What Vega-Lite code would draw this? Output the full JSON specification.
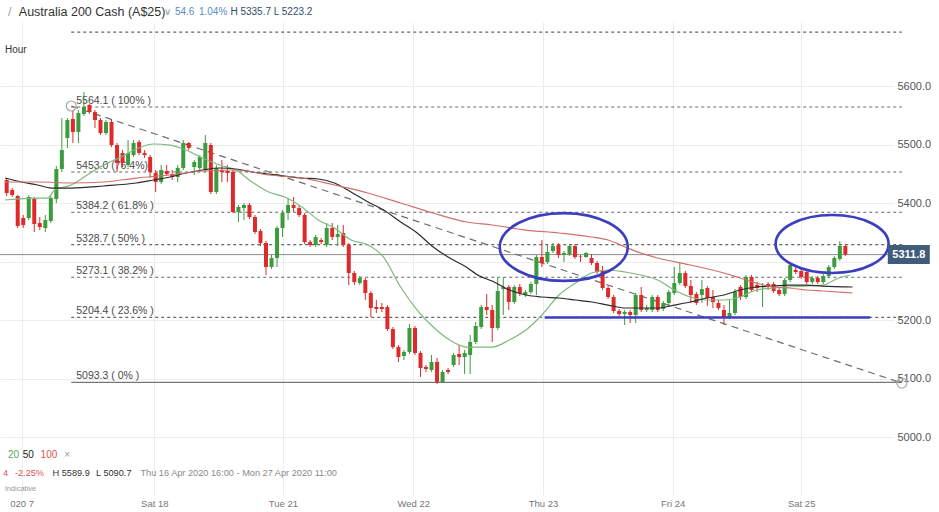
{
  "$schema": "https://vega.github.io/schema/vega-lite/v6.json",
  "autosize": {"type": "none"},
  "padding": {"left": 0, "top": 22, "right": 46, "bottom": 17},
  "width": 893,
  "height": 473,
  "background": "white",
  "config": {"view": {"stroke": null}, "font": "Liberation Sans"},
  "resolve": {"scale": {"color": "independent"}},
  "datasets": {
    "candles": [
      {"i":0,"o":5439.3,"h":5442.7,"l":5412.0,"c":5417.1},
      {"i":1,"o":5422.2,"h":5425.6,"l":5410.3,"c":5413.7},
      {"i":2,"o":5412.0,"h":5413.7,"l":5357.3,"c":5360.7},
      {"i":3,"o":5374.3,"h":5379.5,"l":5357.3,"c":5362.4},
      {"i":4,"o":5374.3,"h":5413.7,"l":5370.9,"c":5410.3},
      {"i":5,"o":5406.8,"h":5410.3,"l":5350.4,"c":5364.1},
      {"i":6,"o":5365.8,"h":5376.1,"l":5353.8,"c":5359.0},
      {"i":7,"o":5357.3,"h":5379.5,"l":5350.4,"c":5370.9},
      {"i":8,"o":5369.2,"h":5412.0,"l":5365.8,"c":5408.5},
      {"i":9,"o":5406.8,"h":5463.2,"l":5400.0,"c":5458.1},
      {"i":10,"o":5458.1,"h":5545.3,"l":5453.0,"c":5490.6},
      {"i":11,"o":5511.1,"h":5545.3,"l":5494.0,"c":5541.9},
      {"i":12,"o":5543.6,"h":5559.0,"l":5502.6,"c":5521.4},
      {"i":13,"o":5521.4,"h":5559.0,"l":5502.6,"c":5553.8},
      {"i":14,"o":5552.1,"h":5589.7,"l":5548.7,"c":5564.1},
      {"i":15,"o":5567.5,"h":5569.2,"l":5552.1,"c":5555.5},
      {"i":16,"o":5555.5,"h":5559.0,"l":5528.2,"c":5541.9},
      {"i":17,"o":5541.9,"h":5545.3,"l":5516.2,"c":5519.6},
      {"i":18,"o":5519.6,"h":5541.9,"l":5516.2,"c":5538.5},
      {"i":19,"o":5538.5,"h":5541.9,"l":5495.7,"c":5499.1},
      {"i":20,"o":5499.1,"h":5502.6,"l":5453.0,"c":5468.4},
      {"i":21,"o":5485.5,"h":5490.6,"l":5461.5,"c":5468.4},
      {"i":22,"o":5464.9,"h":5507.7,"l":5461.5,"c":5485.5},
      {"i":23,"o":5482.0,"h":5507.7,"l":5478.6,"c":5502.6},
      {"i":24,"o":5504.3,"h":5507.7,"l":5482.0,"c":5485.5},
      {"i":25,"o":5485.5,"h":5490.6,"l":5476.9,"c":5482.0},
      {"i":26,"o":5478.6,"h":5482.0,"l":5442.7,"c":5453.0},
      {"i":27,"o":5451.3,"h":5456.4,"l":5418.8,"c":5435.9},
      {"i":28,"o":5435.9,"h":5464.9,"l":5432.5,"c":5456.4},
      {"i":29,"o":5454.7,"h":5464.9,"l":5446.1,"c":5449.6},
      {"i":30,"o":5449.6,"h":5456.4,"l":5439.3,"c":5444.4},
      {"i":31,"o":5444.4,"h":5464.9,"l":5435.9,"c":5459.8},
      {"i":32,"o":5459.8,"h":5507.7,"l":5456.4,"c":5502.6},
      {"i":33,"o":5502.6,"h":5504.3,"l":5490.6,"c":5494.0},
      {"i":34,"o":5461.5,"h":5473.5,"l":5447.9,"c":5470.1},
      {"i":35,"o":5459.8,"h":5482.0,"l":5456.4,"c":5478.6},
      {"i":36,"o":5456.4,"h":5516.2,"l":5453.0,"c":5502.6},
      {"i":37,"o":5499.1,"h":5502.6,"l":5415.4,"c":5418.8},
      {"i":38,"o":5418.8,"h":5464.9,"l":5415.4,"c":5459.8},
      {"i":39,"o":5456.4,"h":5473.5,"l":5435.9,"c":5453.0},
      {"i":40,"o":5454.7,"h":5464.9,"l":5435.9,"c":5451.3},
      {"i":41,"o":5453.0,"h":5456.4,"l":5382.9,"c":5384.6},
      {"i":42,"o":5384.6,"h":5396.6,"l":5367.5,"c":5393.2},
      {"i":43,"o":5391.4,"h":5400.0,"l":5370.9,"c":5396.6},
      {"i":44,"o":5396.6,"h":5400.0,"l":5372.6,"c":5376.1},
      {"i":45,"o":5376.1,"h":5379.5,"l":5347.0,"c":5350.4},
      {"i":46,"o":5352.1,"h":5355.5,"l":5326.5,"c":5331.6},
      {"i":47,"o":5331.6,"h":5335.0,"l":5276.9,"c":5290.6},
      {"i":48,"o":5290.6,"h":5311.1,"l":5287.2,"c":5306.0},
      {"i":49,"o":5306.0,"h":5360.7,"l":5290.6,"c":5357.3},
      {"i":50,"o":5357.3,"h":5388.0,"l":5341.9,"c":5382.9},
      {"i":51,"o":5382.9,"h":5408.5,"l":5370.9,"c":5396.6},
      {"i":52,"o":5396.6,"h":5410.3,"l":5384.6,"c":5391.4},
      {"i":53,"o":5391.4,"h":5396.6,"l":5376.1,"c":5379.5},
      {"i":54,"o":5379.5,"h":5382.9,"l":5329.9,"c":5333.3},
      {"i":55,"o":5333.3,"h":5336.7,"l":5324.8,"c":5328.2},
      {"i":56,"o":5328.2,"h":5345.3,"l":5324.8,"c":5341.9},
      {"i":57,"o":5336.7,"h":5340.1,"l":5329.9,"c":5333.3},
      {"i":58,"o":5328.2,"h":5365.8,"l":5324.8,"c":5357.3},
      {"i":59,"o":5357.3,"h":5365.8,"l":5336.7,"c":5341.9},
      {"i":60,"o":5341.9,"h":5362.4,"l":5326.5,"c":5347.0},
      {"i":61,"o":5348.7,"h":5362.4,"l":5324.8,"c":5328.2},
      {"i":62,"o":5328.2,"h":5331.6,"l":5259.8,"c":5280.3},
      {"i":63,"o":5280.3,"h":5283.8,"l":5259.8,"c":5264.9},
      {"i":64,"o":5263.2,"h":5275.2,"l":5259.8,"c":5271.8},
      {"i":65,"o":5268.4,"h":5271.8,"l":5234.2,"c":5246.2},
      {"i":66,"o":5246.2,"h":5249.6,"l":5205.1,"c":5220.5},
      {"i":67,"o":5222.2,"h":5234.2,"l":5212.0,"c":5218.8},
      {"i":68,"o":5222.2,"h":5229.1,"l":5213.7,"c":5218.8},
      {"i":69,"o":5222.2,"h":5225.6,"l":5181.2,"c":5184.6},
      {"i":70,"o":5184.6,"h":5188.1,"l":5150.4,"c":5153.8},
      {"i":71,"o":5153.8,"h":5157.3,"l":5128.2,"c":5136.8},
      {"i":72,"o":5138.5,"h":5148.7,"l":5131.6,"c":5145.3},
      {"i":73,"o":5145.3,"h":5193.2,"l":5141.9,"c":5186.3},
      {"i":74,"o":5186.3,"h":5189.8,"l":5140.2,"c":5143.6},
      {"i":75,"o":5143.6,"h":5147.0,"l":5102.6,"c":5118.0},
      {"i":76,"o":5119.7,"h":5123.1,"l":5111.2,"c":5116.3},
      {"i":77,"o":5114.6,"h":5140.2,"l":5111.2,"c":5128.2},
      {"i":78,"o":5128.2,"h":5135.1,"l":5090.7,"c":5094.0},
      {"i":79,"o":5094.0,"h":5114.6,"l":5092.3,"c":5111.2},
      {"i":80,"o":5114.6,"h":5118.0,"l":5107.7,"c":5111.2},
      {"i":81,"o":5123.1,"h":5143.6,"l":5119.7,"c":5140.2},
      {"i":82,"o":5141.9,"h":5157.3,"l":5123.1,"c":5136.8},
      {"i":83,"o":5136.8,"h":5148.7,"l":5107.7,"c":5143.6},
      {"i":84,"o":5140.2,"h":5174.4,"l":5107.7,"c":5162.4},
      {"i":85,"o":5162.4,"h":5196.6,"l":5159.0,"c":5189.8},
      {"i":86,"o":5188.1,"h":5225.6,"l":5184.6,"c":5222.2},
      {"i":87,"o":5222.2,"h":5244.4,"l":5208.6,"c":5217.1},
      {"i":88,"o":5217.1,"h":5225.6,"l":5162.4,"c":5186.3},
      {"i":89,"o":5186.3,"h":5271.8,"l":5182.9,"c":5249.6},
      {"i":90,"o":5252.9,"h":5273.5,"l":5208.6,"c":5256.4},
      {"i":91,"o":5256.4,"h":5259.8,"l":5217.1,"c":5230.8},
      {"i":92,"o":5230.8,"h":5259.8,"l":5227.4,"c":5256.4},
      {"i":93,"o":5256.4,"h":5261.5,"l":5241.0,"c":5246.2},
      {"i":94,"o":5242.7,"h":5251.3,"l":5239.3,"c":5247.9},
      {"i":95,"o":5247.9,"h":5264.9,"l":5244.4,"c":5261.5},
      {"i":96,"o":5261.5,"h":5311.1,"l":5242.7,"c":5307.7},
      {"i":97,"o":5307.7,"h":5336.7,"l":5290.6,"c":5297.4},
      {"i":98,"o":5299.1,"h":5328.2,"l":5295.7,"c":5316.3},
      {"i":99,"o":5318.0,"h":5331.6,"l":5314.5,"c":5326.5},
      {"i":100,"o":5328.2,"h":5331.6,"l":5306.0,"c":5311.1},
      {"i":101,"o":5311.1,"h":5318.0,"l":5299.1,"c":5314.5},
      {"i":102,"o":5312.8,"h":5329.9,"l":5309.4,"c":5326.5},
      {"i":103,"o":5326.5,"h":5329.9,"l":5304.3,"c":5307.7},
      {"i":104,"o":5308.5,"h":5311.1,"l":5299.1,"c":5307.7},
      {"i":105,"o":5307.7,"h":5316.3,"l":5306.0,"c":5314.5},
      {"i":106,"o":5306.0,"h":5312.8,"l":5294.0,"c":5297.4},
      {"i":107,"o":5297.4,"h":5300.9,"l":5278.6,"c":5282.1},
      {"i":108,"o":5285.5,"h":5292.3,"l":5251.3,"c":5254.7},
      {"i":109,"o":5254.7,"h":5258.1,"l":5235.9,"c":5239.3},
      {"i":110,"o":5239.3,"h":5242.7,"l":5212.0,"c":5215.4},
      {"i":111,"o":5215.4,"h":5218.8,"l":5206.8,"c":5210.3},
      {"i":112,"o":5210.3,"h":5217.1,"l":5191.5,"c":5213.7},
      {"i":113,"o":5213.7,"h":5217.1,"l":5194.9,"c":5208.6},
      {"i":114,"o":5208.6,"h":5246.2,"l":5194.9,"c":5242.7},
      {"i":115,"o":5242.7,"h":5256.4,"l":5213.7,"c":5217.1},
      {"i":116,"o":5217.1,"h":5225.6,"l":5213.7,"c":5220.5},
      {"i":117,"o":5217.1,"h":5242.7,"l":5213.7,"c":5239.3},
      {"i":118,"o":5239.3,"h":5242.7,"l":5213.7,"c":5217.1},
      {"i":119,"o":5218.8,"h":5232.5,"l":5215.4,"c":5229.1},
      {"i":120,"o":5229.1,"h":5251.3,"l":5225.6,"c":5247.9},
      {"i":121,"o":5246.2,"h":5290.6,"l":5242.7,"c":5263.2},
      {"i":122,"o":5263.2,"h":5297.4,"l":5259.8,"c":5280.3},
      {"i":123,"o":5280.3,"h":5283.8,"l":5254.7,"c":5258.1},
      {"i":124,"o":5258.1,"h":5268.4,"l":5229.1,"c":5242.7},
      {"i":125,"o":5244.4,"h":5247.9,"l":5225.6,"c":5229.1},
      {"i":126,"o":5242.7,"h":5268.4,"l":5229.1,"c":5252.9},
      {"i":127,"o":5254.7,"h":5258.1,"l":5223.9,"c":5237.6},
      {"i":128,"o":5239.3,"h":5251.3,"l":5220.5,"c":5230.8},
      {"i":129,"o":5229.1,"h":5234.2,"l":5217.1,"c":5220.5},
      {"i":130,"o":5217.1,"h":5225.6,"l":5191.5,"c":5205.1},
      {"i":131,"o":5205.1,"h":5234.2,"l":5201.7,"c":5212.0},
      {"i":132,"o":5212.0,"h":5253.0,"l":5208.6,"c":5247.9},
      {"i":133,"o":5256.4,"h":5259.8,"l":5234.2,"c":5239.3},
      {"i":134,"o":5239.3,"h":5276.9,"l":5235.9,"c":5273.5},
      {"i":135,"o":5273.5,"h":5276.9,"l":5247.9,"c":5251.3},
      {"i":136,"o":5259.8,"h":5264.9,"l":5247.9,"c":5254.7},
      {"i":137,"o":5256.4,"h":5263.2,"l":5222.2,"c":5258.1},
      {"i":138,"o":5261.5,"h":5264.9,"l":5251.3,"c":5256.4},
      {"i":139,"o":5261.5,"h":5264.9,"l":5246.2,"c":5249.6},
      {"i":140,"o":5251.3,"h":5254.7,"l":5241.0,"c":5244.4},
      {"i":141,"o":5244.4,"h":5271.8,"l":5241.0,"c":5268.4},
      {"i":142,"o":5268.4,"h":5297.4,"l":5264.9,"c":5294.0},
      {"i":143,"o":5285.5,"h":5294.0,"l":5278.6,"c":5282.1},
      {"i":144,"o":5283.8,"h":5287.2,"l":5270.1,"c":5273.5},
      {"i":145,"o":5282.1,"h":5285.5,"l":5261.5,"c":5264.9},
      {"i":146,"o":5264.9,"h":5275.2,"l":5261.5,"c":5271.8},
      {"i":147,"o":5271.8,"h":5275.2,"l":5261.5,"c":5264.9},
      {"i":148,"o":5264.9,"h":5278.6,"l":5261.5,"c":5275.2},
      {"i":149,"o":5275.2,"h":5294.0,"l":5271.8,"c":5290.6},
      {"i":150,"o":5290.6,"h":5309.4,"l":5287.2,"c":5306.0},
      {"i":151,"o":5304.3,"h":5335.0,"l":5300.9,"c":5326.5},
      {"i":152,"o":5326.5,"h":5329.9,"l":5309.4,"c":5311.8}
    ],
    "ma": [
      {"ma":"20","i":-0.3,"v":5405.1},{"ma":"20","i":5.6,"v":5408.5},{"ma":"20","i":7.4,"v":5408.5},{"ma":"20","i":8.7,"v":5422.2},
      {"ma":"20","i":11.7,"v":5430.8},{"ma":"20","i":14.6,"v":5447.9},{"ma":"20","i":17.6,"v":5464.9},{"ma":"20","i":20.7,"v":5478.6},
      {"ma":"20","i":23.5,"v":5492.3},{"ma":"20","i":26.6,"v":5500.9},{"ma":"20","i":29.6,"v":5499.1},{"ma":"20","i":32.5,"v":5490.6},
      {"ma":"20","i":35.5,"v":5476.9},{"ma":"20","i":38.6,"v":5464.9},{"ma":"20","i":41.5,"v":5456.4},{"ma":"20","i":44.5,"v":5435.9},
      {"ma":"20","i":47.5,"v":5418.8},{"ma":"20","i":50.4,"v":5410.3},{"ma":"20","i":53.5,"v":5393.2},{"ma":"20","i":56.5,"v":5370.9},
      {"ma":"20","i":59.4,"v":5357.3},{"ma":"20","i":62.4,"v":5336.7},{"ma":"20","i":65.5,"v":5328.2},{"ma":"20","i":68.3,"v":5307.7},
      {"ma":"20","i":71.4,"v":5256.4},{"ma":"20","i":74.4,"v":5217.1},{"ma":"20","i":77.3,"v":5188.1},{"ma":"20","i":80.3,"v":5165.8},
      {"ma":"20","i":83.4,"v":5153.8},{"ma":"20","i":88.0,"v":5153.8},{"ma":"20","i":91.1,"v":5165.8},{"ma":"20","i":94.1,"v":5182.9},
      {"ma":"20","i":97.0,"v":5208.6},{"ma":"20","i":100.1,"v":5242.7},{"ma":"20","i":103.1,"v":5263.2},{"ma":"20","i":106.0,"v":5280.3},
      {"ma":"20","i":109.0,"v":5285.5},{"ma":"20","i":112.1,"v":5282.1},{"ma":"20","i":114.9,"v":5276.9},{"ma":"20","i":118.0,"v":5268.4},
      {"ma":"20","i":121.0,"v":5251.3},{"ma":"20","i":123.9,"v":5239.3},{"ma":"20","i":126.9,"v":5234.2},{"ma":"20","i":130.0,"v":5234.2},
      {"ma":"20","i":132.9,"v":5239.3},{"ma":"20","i":135.9,"v":5251.3},{"ma":"20","i":138.9,"v":5254.7},{"ma":"20","i":141.8,"v":5256.4},
      {"ma":"20","i":144.9,"v":5258.1},{"ma":"20","i":147.9,"v":5259.8},{"ma":"20","i":150.8,"v":5271.8},{"ma":"20","i":152.9,"v":5276.9},
      {"ma":"50","i":-0.3,"v":5442.7},{"ma":"50","i":2.7,"v":5435.9},{"ma":"50","i":5.6,"v":5430.8},{"ma":"50","i":8.1,"v":5425.6},
      {"ma":"50","i":11.7,"v":5425.6},{"ma":"50","i":17.6,"v":5429.1},{"ma":"50","i":23.5,"v":5434.2},{"ma":"50","i":26.6,"v":5439.3},
      {"ma":"50","i":29.6,"v":5444.4},{"ma":"50","i":32.5,"v":5451.3},{"ma":"50","i":35.5,"v":5456.4},{"ma":"50","i":38.6,"v":5459.8},
      {"ma":"50","i":41.5,"v":5458.1},{"ma":"50","i":44.5,"v":5453.0},{"ma":"50","i":47.5,"v":5449.6},{"ma":"50","i":50.4,"v":5446.1},
      {"ma":"50","i":53.5,"v":5442.7},{"ma":"50","i":56.5,"v":5441.0},{"ma":"50","i":59.4,"v":5434.2},{"ma":"50","i":62.4,"v":5418.8},
      {"ma":"50","i":65.5,"v":5401.7},{"ma":"50","i":68.3,"v":5388.0},{"ma":"50","i":71.4,"v":5367.5},{"ma":"50","i":74.4,"v":5348.7},
      {"ma":"50","i":77.3,"v":5324.8},{"ma":"50","i":80.3,"v":5306.0},{"ma":"50","i":83.0,"v":5292.3},{"ma":"50","i":85.7,"v":5275.2},
      {"ma":"50","i":88.0,"v":5266.6},{"ma":"50","i":91.1,"v":5251.3},{"ma":"50","i":94.1,"v":5242.7},{"ma":"50","i":97.0,"v":5239.3},
      {"ma":"50","i":100.1,"v":5237.6},{"ma":"50","i":103.1,"v":5234.2},{"ma":"50","i":106.0,"v":5230.8},{"ma":"50","i":109.0,"v":5225.6},
      {"ma":"50","i":112.1,"v":5220.5},{"ma":"50","i":114.9,"v":5220.5},{"ma":"50","i":118.0,"v":5220.5},{"ma":"50","i":121.0,"v":5225.6},
      {"ma":"50","i":123.9,"v":5230.8},{"ma":"50","i":126.9,"v":5237.6},{"ma":"50","i":130.0,"v":5242.7},{"ma":"50","i":132.9,"v":5251.3},
      {"ma":"50","i":135.9,"v":5256.4},{"ma":"50","i":138.9,"v":5258.1},{"ma":"50","i":141.8,"v":5259.8},{"ma":"50","i":144.9,"v":5259.8},
      {"ma":"50","i":147.9,"v":5258.1},{"ma":"50","i":153.3,"v":5256.4},
      {"ma":"100","i":-0.3,"v":5435.9},{"ma":"100","i":5.6,"v":5435.9},{"ma":"100","i":11.7,"v":5434.2},{"ma":"100","i":17.6,"v":5435.9},
      {"ma":"100","i":23.5,"v":5442.7},{"ma":"100","i":29.6,"v":5447.9},{"ma":"100","i":35.5,"v":5454.7},{"ma":"100","i":41.5,"v":5456.4},
      {"ma":"100","i":47.5,"v":5447.9},{"ma":"100","i":53.5,"v":5442.7},{"ma":"100","i":59.4,"v":5430.8},{"ma":"100","i":65.5,"v":5417.1},
      {"ma":"100","i":71.4,"v":5400.0},{"ma":"100","i":77.3,"v":5382.9},{"ma":"100","i":83.4,"v":5367.5},{"ma":"100","i":88.0,"v":5362.4},
      {"ma":"100","i":94.1,"v":5353.8},{"ma":"100","i":100.1,"v":5348.7},{"ma":"100","i":106.0,"v":5341.9},{"ma":"100","i":109.0,"v":5336.7},
      {"ma":"100","i":112.1,"v":5324.8},{"ma":"100","i":114.9,"v":5314.5},{"ma":"100","i":118.0,"v":5306.0},{"ma":"100","i":123.9,"v":5294.0},
      {"ma":"100","i":130.0,"v":5280.3},{"ma":"100","i":132.9,"v":5271.8},{"ma":"100","i":135.9,"v":5263.2},{"ma":"100","i":138.9,"v":5256.4},
      {"ma":"100","i":141.8,"v":5254.7},{"ma":"100","i":144.9,"v":5251.3},{"ma":"100","i":147.9,"v":5249.6},{"ma":"100","i":153.3,"v":5246.2}
    ],
    "fib": [
      {"p":5692.2,"r":127.2,"lab":"","x1":11.7,"x2":162.24},
      {"p":5564.1,"r":100,"lab":"5564.1 ( 100% )","x1":11.7,"x2":162.24},
      {"p":5453.0,"r":76.4,"lab":"5453.0 (76.4%)","x1":11.7,"x2":162.24},
      {"p":5384.2,"r":61.8,"lab":"5384.2 ( 61.8% )","x1":11.7,"x2":162.24},
      {"p":5328.7,"r":50,"lab":"5328.7 ( 50% )","x1":11.7,"x2":162.24},
      {"p":5273.1,"r":38.2,"lab":"5273.1 ( 38.2% )","x1":11.7,"x2":162.24},
      {"p":5204.4,"r":23.6,"lab":"5204.4 ( 23.6% )","x1":11.7,"x2":162.24},
      {"p":5093.3,"r":0,"lab":"5093.3 ( 0% )","x1":11.7,"x2":162.24}
    ],
    "trend": [{"x1":11.7,"y1":5565.8,"x2":162.24,"y2":5092.3}],
    "anchors": [{"x":11.7,"y":5565.8},{"x":162.24,"y":5092.3}],
    "support": [{"x1":97.5,"x2":156.5,"y":5204.4}],
    "zones": [{"id":"a","x":100.96,"y":5324.8},{"id":"b","x":149.6,"y":5329.9}],
    "price": [{"x":163.5,"p":5311.8,"lab":"5311.8"}],
    "notes": [
      {"t":"/","x":0.23,"y":5726.5,"g":"grey","f":"h"},
      {"t":"Australia 200 Cash (A$25)","x":2.2,"y":5726.5,"g":"dark","f":"h"},
      {"t":"∨","x":28.55,"y":5726.5,"g":"grey","f":"m"},
      {"t":"54.6","x":30.5,"y":5726.5,"g":"blue","f":"m"},
      {"t":"1.04%","x":34.85,"y":5726.5,"g":"blue","f":"m"},
      {"t":"H 5335.7 L 5223.2","x":40.55,"y":5726.5,"g":"navy","f":"m"},
      {"t":"Hour","x":-0.3,"y":5661.5,"g":"dark","f":"m"},
      {"t":"20","x":0.23,"y":4969.2,"g":"green","f":"m"},
      {"t":"50","x":2.92,"y":4969.2,"g":"black","f":"m"},
      {"t":"100","x":6.15,"y":4969.2,"g":"red","f":"m"},
      {"t":"×","x":10.45,"y":4969.2,"g":"grey","f":"m"},
      {"t":"4","x":-0.66,"y":4938.5,"g":"red","f":"s"},
      {"t":"-2.25%","x":1.49,"y":4938.5,"g":"red","f":"s"},
      {"t":"H 5589.9","x":8.3,"y":4938.5,"g":"dark","f":"s"},
      {"t":"L 5090.7","x":16.2,"y":4938.5,"g":"dark","f":"s"},
      {"t":"Thu 16 Apr 2020 16:00 - Mon 27 Apr 2020 11:00","x":24.25,"y":4938.5,"g":"light","f":"s"},
      {"t":"indicative","x":-0.3,"y":4911.1,"g":"grey","f":"t"}
    ]
  },
  "layer": [
    {
      "data": {"name": "fib"},
      "transform": [{"filter": "datum.r > 0"}],
      "mark": {"type": "rule", "color": "#666666", "strokeWidth": 1.2, "strokeDash": [3, 3]},
      "encoding": {
        "x": {"field": "x1", "type": "quantitative",
              "scale": {"domain": [-0.305, 159.73], "nice": false, "zero": false},
              "axis": {"values": [2.7, 26.75, 50.05, 73.7, 97.2, 120.7, 144.0], "title": null,
                       "labelExpr": "datum.value < 10 ? '020 7' : datum.value < 40 ? 'Sat 18' : datum.value < 60 ? 'Tue 21' : datum.value < 85 ? 'Wed 22' : datum.value < 110 ? 'Thu 23' : datum.value < 130 ? 'Fri 24' : 'Sat 25'",
                       "grid": true, "gridColor": "#ececec", "ticks": false, "domain": false,
                       "labelColor": "#777777", "labelFontSize": 9.5, "labelPadding": 3, "labelFont": "Liberation Sans"}},
        "x2": {"field": "x2"},
        "y": {"field": "p", "type": "quantitative",
              "scale": {"domain": [4900.9, 5709.4], "nice": false, "zero": false},
              "axis": {"orient": "right", "values": [5000, 5100, 5200, 5300, 5400, 5500, 5600], "title": null,
                       "labelExpr": "datum.value == 5300 ? '' : format(datum.value, '.1f')",
                       "grid": true, "gridColor": "#ececec", "ticks": false, "domain": false,
                       "labelColor": "#555555", "labelFontSize": 11, "labelPadding": 4, "labelFont": "Liberation Sans"}}
      }
    },
    {
      "data": {"name": "fib"},
      "transform": [{"filter": "datum.r == 0"}],
      "mark": {"type": "rule", "color": "#777777", "strokeWidth": 1.2},
      "encoding": {
        "x": {"field": "x1", "type": "quantitative", "axis": {"title": null}},
        "x2": {"field": "x2"},
        "y": {"field": "p", "type": "quantitative", "axis": {"title": null}}
      }
    },
    {
      "data": {"name": "fib"},
      "transform": [{"filter": "datum.lab != ''"}],
      "mark": {"type": "text", "align": "left", "baseline": "bottom", "dx": 5, "dy": -1, "fontSize": 10.5, "color": "#4a4a4a", "font": "Liberation Sans"},
      "encoding": {
        "x": {"field": "x1", "type": "quantitative", "axis": {"title": null}},
        "y": {"field": "p", "type": "quantitative", "axis": {"title": null}},
        "text": {"field": "lab"}
      }
    },
    {
      "data": {"name": "price"},
      "mark": {"type": "rule", "color": "#8c8c8c", "strokeWidth": 1},
      "encoding": {
        "y": {"field": "p", "type": "quantitative", "axis": {"title": null}}
      }
    },
    {
      "data": {"name": "trend"},
      "mark": {"type": "rule", "color": "#6e6e6e", "strokeWidth": 1.2, "strokeDash": [7, 5]},
      "encoding": {
        "x": {"field": "x1", "type": "quantitative", "axis": {"title": null}},
        "x2": {"field": "x2"},
        "y": {"field": "y1", "type": "quantitative", "axis": {"title": null}},
        "y2": {"field": "y2"}
      }
    },
    {
      "data": {"name": "candles"},
      "mark": {"type": "rule", "strokeWidth": 1},
      "encoding": {
        "x": {"field": "i", "type": "quantitative", "axis": {"title": null}},
        "y": {"field": "l", "type": "quantitative", "axis": {"title": null}},
        "y2": {"field": "h"},
        "color": {"condition": {"test": "datum.c >= datum.o", "value": "#3c9a3f"}, "value": "#dd2a2a"}
      }
    },
    {
      "data": {"name": "candles"},
      "mark": {"type": "bar", "size": 4},
      "encoding": {
        "x": {"field": "i", "type": "quantitative", "axis": {"title": null}},
        "y": {"field": "o", "type": "quantitative", "axis": {"title": null}},
        "y2": {"field": "c"},
        "color": {"condition": {"test": "datum.c >= datum.o", "value": "#3c9a3f"}, "value": "#dd2a2a"}
      }
    },
    {
      "data": {"name": "ma"},
      "mark": {"type": "line", "strokeWidth": 1.2, "interpolate": "monotone"},
      "encoding": {
        "x": {"field": "i", "type": "quantitative", "axis": {"title": null}},
        "y": {"field": "v", "type": "quantitative", "axis": {"title": null}},
        "color": {"field": "ma", "type": "nominal", "legend": null,
                  "scale": {"domain": ["20", "50", "100"], "range": ["#7dba7d", "#2b2b2b", "#d26f6c"]}},
        "order": {"field": "i", "type": "quantitative"}
      }
    },
    {
      "data": {"name": "support"},
      "mark": {"type": "rule", "color": "#3b3fbf", "strokeWidth": 2.6},
      "encoding": {
        "x": {"field": "x1", "type": "quantitative", "axis": {"title": null}},
        "x2": {"field": "x2"},
        "y": {"field": "y", "type": "quantitative", "axis": {"title": null}}
      }
    },
    {
      "data": {"name": "zones"},
      "transform": [{"filter": "datum.id == 'a'"}],
      "mark": {"type": "point", "shape": "M-1,0A1,0.53,0,1,1,1,0A1,0.53,0,1,1,-1,0Z", "size": 16384, "filled": false, "stroke": "#3b3fbf", "strokeWidth": 2.6, "opacity": 1},
      "encoding": {
        "x": {"field": "x", "type": "quantitative", "axis": {"title": null}},
        "y": {"field": "y", "type": "quantitative", "axis": {"title": null}}
      }
    },
    {
      "data": {"name": "zones"},
      "transform": [{"filter": "datum.id == 'b'"}],
      "mark": {"type": "point", "shape": "M-1,0A1,0.513,0,1,1,1,0A1,0.513,0,1,1,-1,0Z", "size": 12769, "filled": false, "stroke": "#3b3fbf", "strokeWidth": 2.6, "opacity": 1},
      "encoding": {
        "x": {"field": "x", "type": "quantitative", "axis": {"title": null}},
        "y": {"field": "y", "type": "quantitative", "axis": {"title": null}}
      }
    },
    {
      "data": {"name": "anchors"},
      "mark": {"type": "point", "shape": "circle", "size": 100, "filled": false, "stroke": "#a8a8a8", "strokeWidth": 1.2, "opacity": 1},
      "encoding": {
        "x": {"field": "x", "type": "quantitative", "axis": {"title": null}},
        "y": {"field": "y", "type": "quantitative", "axis": {"title": null}}
      }
    },
    {
      "data": {"name": "price"},
      "mark": {"type": "point", "shape": "M-1,-0.452H1V0.452H-1Z", "size": 1764, "filled": true, "fill": "#3f5c78", "opacity": 1, "strokeWidth": 0},
      "encoding": {
        "x": {"field": "x", "type": "quantitative", "axis": {"title": null}},
        "y": {"field": "p", "type": "quantitative", "axis": {"title": null}}
      }
    },
    {
      "data": {"name": "price"},
      "mark": {"type": "text", "color": "white", "fontSize": 11, "fontWeight": "bold", "align": "center", "baseline": "middle", "font": "Liberation Sans"},
      "encoding": {
        "x": {"field": "x", "type": "quantitative", "axis": {"title": null}},
        "y": {"field": "p", "type": "quantitative", "axis": {"title": null}},
        "text": {"field": "lab"}
      }
    },
    {
      "data": {"name": "notes"},
      "transform": [{"filter": "datum.f == 'h'"}],
      "mark": {"type": "text", "align": "left", "baseline": "middle", "fontSize": 12.5, "font": "Liberation Sans"},
      "encoding": {
        "x": {"field": "x", "type": "quantitative", "axis": {"title": null}},
        "y": {"field": "y", "type": "quantitative", "axis": {"title": null}},
        "text": {"field": "t"},
        "color": {"field": "g", "type": "nominal", "legend": null,
                  "scale": {"domain": ["dark", "grey", "blue", "navy", "green", "black", "red", "light"],
                            "range": ["#333333", "#9a9a9a", "#5b8cc8", "#2f4d70", "#5aa85a", "#222222", "#d9534f", "#8a8a8a"]}}
      }
    },
    {
      "data": {"name": "notes"},
      "transform": [{"filter": "datum.f == 'm'"}],
      "mark": {"type": "text", "align": "left", "baseline": "middle", "fontSize": 10, "font": "Liberation Sans"},
      "encoding": {
        "x": {"field": "x", "type": "quantitative", "axis": {"title": null}},
        "y": {"field": "y", "type": "quantitative", "axis": {"title": null}},
        "text": {"field": "t"},
        "color": {"field": "g", "type": "nominal", "legend": null,
                  "scale": {"domain": ["dark", "grey", "blue", "navy", "green", "black", "red", "light"],
                            "range": ["#333333", "#9a9a9a", "#5b8cc8", "#2f4d70", "#5aa85a", "#222222", "#d9534f", "#8a8a8a"]}}
      }
    },
    {
      "data": {"name": "notes"},
      "transform": [{"filter": "datum.f == 's'"}],
      "mark": {"type": "text", "align": "left", "baseline": "middle", "fontSize": 9.2, "font": "Liberation Sans"},
      "encoding": {
        "x": {"field": "x", "type": "quantitative", "axis": {"title": null}},
        "y": {"field": "y", "type": "quantitative", "axis": {"title": null}},
        "text": {"field": "t"},
        "color": {"field": "g", "type": "nominal", "legend": null,
                  "scale": {"domain": ["dark", "grey", "blue", "navy", "green", "black", "red", "light"],
                            "range": ["#333333", "#9a9a9a", "#5b8cc8", "#2f4d70", "#5aa85a", "#222222", "#d9534f", "#8a8a8a"]}}
      }
    },
    {
      "data": {"name": "notes"},
      "transform": [{"filter": "datum.f == 't'"}],
      "mark": {"type": "text", "align": "left", "baseline": "middle", "fontSize": 7.5, "font": "Liberation Sans"},
      "encoding": {
        "x": {"field": "x", "type": "quantitative", "axis": {"title": null}},
        "y": {"field": "y", "type": "quantitative", "axis": {"title": null}},
        "text": {"field": "t"},
        "color": {"field": "g", "type": "nominal", "legend": null,
                  "scale": {"domain": ["dark", "grey", "blue", "navy", "green", "black", "red", "light"],
                            "range": ["#333333", "#9a9a9a", "#5b8cc8", "#2f4d70", "#5aa85a", "#222222", "#d9534f", "#8a8a8a"]}}
      }
    }
  ]
}
